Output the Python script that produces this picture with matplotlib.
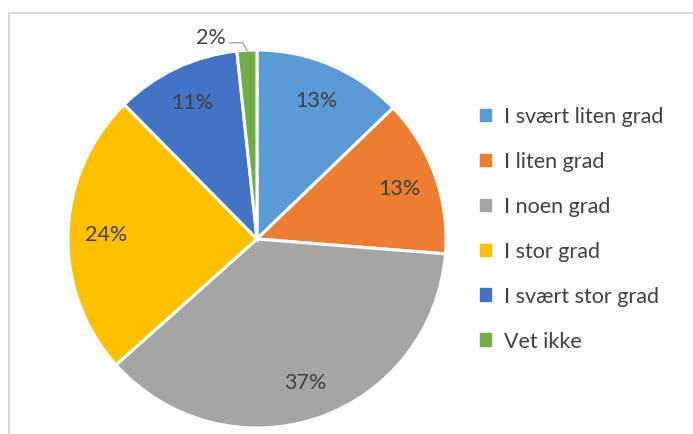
import numpy as np
import matplotlib.pyplot as plt
from matplotlib.patches import Rectangle

labels = ['I svært liten grad', 'I liten grad', 'I noen grad', 'I stor grad', 'I svært stor grad', 'Vet ikke']
values = [12.8, 13.45, 37.15, 24.2, 10.7, 1.7]
colors = ['#5B9BD5', '#ED7D31', '#A5A5A5', '#FFC000', '#4472C4', '#70AD47']

plt.rcParams['font.family'] = ['Lato', 'DejaVu Sans']
txt = '#404040'
fs = 15.5

fig = plt.figure(figsize=(6.93, 4.35), dpi=100)
# light frame like the spreadsheet chart area
fig.patches.append(Rectangle((8.5 / 693, -0.1), 1.2, (435 - 13.5) / 435 + 0.1,
                             transform=fig.transFigure, fill=False,
                             edgecolor='#d9d9d9', lw=1.5))

ax = fig.add_axes([68 / 693, 6 / 435, 378 / 693, 378 / 435])
wedges, texts, autotexts = ax.pie(values, colors=colors, startangle=90, counterclock=False,
                                  autopct='%.0f%%', pctdistance=0.8,
                                  wedgeprops=dict(edgecolor='white', linewidth=2.2),
                                  textprops=dict(color=txt, fontsize=fs))
ax.set_xlim(-1, 1)
ax.set_ylim(-1, 1)

# small slice: label outside with leader line
w = wedges[-1]
autotexts[-1].set_visible(False)
mid = np.deg2rad((w.theta1 + w.theta2) / 2)
p0 = (np.cos(mid), np.sin(mid))
p1 = (1.04 * np.cos(mid) - 0.02, 1.04 * np.sin(mid))
p2 = (p1[0] - 0.07, p1[1])
ax.plot([p0[0], p1[0], p2[0]], [p0[1], p1[1], p2[1]], color='#a6a6a6', lw=1, clip_on=False)
ax.text(p2[0] - 0.02, p2[1] + 0.03, f'{values[-1]:.0f}%', ha='right', va='center',
        color=txt, fontsize=fs)

handles = [Rectangle((0, 0), 1, 1, color=c) for c in colors]
fig.legend(handles, labels, loc='upper left', bbox_to_anchor=(461 / 693, 1 - 88 / 435),
           frameon=False, fontsize=fs, labelcolor=txt, handlelength=0.5, handleheight=0.5,
           handletextpad=0.6, labelspacing=1.16)

fig.savefig('out.png', dpi=100)
